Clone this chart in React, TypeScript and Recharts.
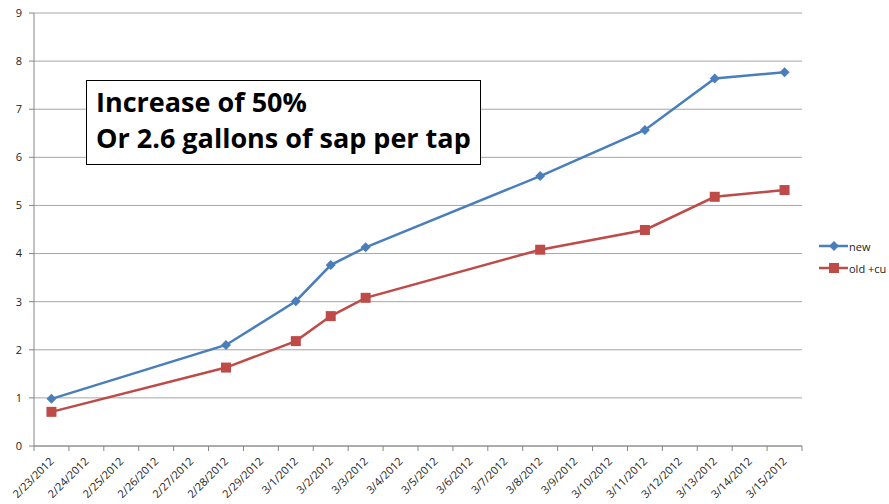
import React from "react";
import {
  LineChart, Line, XAxis, YAxis, CartesianGrid,
} from "recharts";

// one category per day, Excel-style date axis
const DATES = [
  "2/23/2012", "2/24/2012", "2/25/2012", "2/26/2012", "2/27/2012", "2/28/2012",
  "2/29/2012", "3/1/2012", "3/2/2012", "3/3/2012", "3/4/2012", "3/5/2012",
  "3/6/2012", "3/7/2012", "3/8/2012", "3/9/2012", "3/10/2012", "3/11/2012",
  "3/12/2012", "3/13/2012", "3/14/2012", "3/15/2012",
];

// null = no reading that day
const NEW = [
  0.98, null, null, null, null, 2.1, null, 3.01, 3.76, 4.13, null, null,
  null, null, 5.61, null, null, 6.57, null, 7.64, null, 7.77,
];
const OLD_CU = [
  0.71, null, null, null, null, 1.63, null, 2.18, 2.7, 3.08, null, null,
  null, null, 4.08, null, null, 4.49, null, 5.18, null, 5.32,
];

const Y_TICKS = [0, 1, 2, 3, 4, 5, 6, 7, 8, 9];

const BLUE = "#4A7EBB";
const RED = "#BE4B48";
const AXIS = "#868686";

const W = 889;
const H = 504;
const LEFT = 34;
const RIGHT = 87;
const STEP = (W - LEFT - RIGHT) / DATES.length;

const data = DATES.map((d, i) => ({ date: d, nw: NEW[i], old: OLD_CU[i] }));

const DateTick = (props: any) => {
  const { x, y, payload, index } = props;
  const last = index === DATES.length - 1;
  return (
    <g>
      <line x1={x - STEP / 2} x2={x - STEP / 2} y1={y} y2={y + 5} stroke={AXIS} />
      {last && <line x1={x + STEP / 2} x2={x + STEP / 2} y1={y} y2={y + 5} stroke={AXIS} />}
      <text
        transform={`translate(${x + 3},${y + 16}) rotate(-45)`}
        textAnchor="end"
        fontSize={11}
        fontFamily="Open Sans"
        fill="#222"
      >
        {payload.value}
      </text>
    </g>
  );
};

const Diamond = (props: any) => {
  const { cx, cy } = props;
  if (cx == null || cy == null) return null;
  return <path d={`M${cx},${cy - 5}L${cx + 5},${cy}L${cx},${cy + 5}L${cx - 5},${cy}Z`} fill={BLUE} />;
};

const Square = (props: any) => {
  const { cx, cy } = props;
  if (cx == null || cy == null) return null;
  return <rect x={cx - 5} y={cy - 5} width={10} height={10} fill={RED} />;
};

export default function App() {
  return (
    <div style={{ position: "relative", width: W, height: H, background: "#fff" }}>
      <style>{`body{margin:0}`}</style>
      <LineChart width={W} height={H} data={data} margin={{ top: 13, right: RIGHT, bottom: 0, left: 0 }}>
        <CartesianGrid vertical={false} stroke="#A6A6A6" />
        <XAxis
          dataKey="date"
          interval={0}
          height={58}
          padding={{ left: STEP / 2, right: STEP / 2 }}
          tickLine={false}
          tickSize={0}
          tickMargin={0}
          axisLine={{ stroke: AXIS }}
          tick={<DateTick />}
        />
        <YAxis
          width={LEFT}
          domain={[0, 9]}
          ticks={Y_TICKS}
          interval={0}
          tickSize={5}
          tickMargin={7}
          tickLine={{ stroke: AXIS }}
          axisLine={{ stroke: AXIS }}
          tick={{ fontSize: 11, fontFamily: "Open Sans", fill: "#222" }}
        />
        <Line
          dataKey="nw"
          name="new"
          stroke={BLUE}
          strokeWidth={2.5}
          connectNulls
          dot={<Diamond />}
          activeDot={false}
          isAnimationActive={false}
        />
        <Line
          dataKey="old"
          name="old +cu"
          stroke={RED}
          strokeWidth={2.5}
          connectNulls
          dot={<Square />}
          activeDot={false}
          isAnimationActive={false}
        />
      </LineChart>

      {/* annotation box */}
      <div
        style={{
          position: "absolute", left: 86, top: 80, width: 384, height: 80,
          border: "1px solid #000", background: "#fff", boxSizing: "content-box",
          fontFamily: "Open Sans", fontWeight: 700, fontSize: 27, lineHeight: "36px",
          paddingLeft: 9, paddingTop: 3, color: "#000", overflow: "hidden",
          whiteSpace: "nowrap",
        }}
      >
        <div>Increase of 50%</div>
        <div>Or 2.6 gallons of sap per tap</div>
      </div>

      {/* legend */}
      <div style={{ position: "absolute", left: 819, top: 235, fontFamily: "Open Sans", fontSize: 11, color: "#222" }}>
        {[
          { name: "new", color: BLUE, square: false },
          { name: "old +cu", color: RED, square: true },
        ].map((s) => (
          <div key={s.name} style={{ display: "flex", alignItems: "center", height: 22 }}>
            <svg width={29} height={12}>
              <line x1={0} x2={29} y1={6} y2={6} stroke={s.color} strokeWidth={2.5} />
              {s.square
                ? <rect x={10} y={1} width={10} height={10} fill={s.color} />
                : <path d="M15,1L20,6L15,11L10,6Z" fill={s.color} />}
            </svg>
            <span style={{ marginLeft: 1 }}>{s.name}</span>
          </div>
        ))}
      </div>
    </div>
  );
}
